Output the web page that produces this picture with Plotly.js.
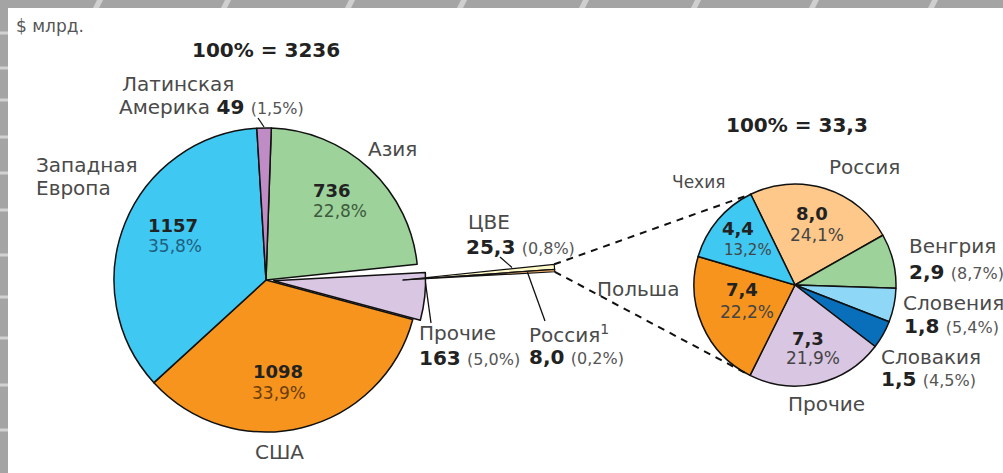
<!DOCTYPE html>
<html><head><meta charset="utf-8">
<script src="https://cdn.plot.ly/plotly-3.0.1.min.js"></script>
<style>html,body{margin:0;padding:0;background:#fff;overflow:hidden}#chart{width:1003px;height:473px}</style>
</head><body><div id="chart"></div>
<script>
// ---------------- data ----------------
const unitLabel = '$ млрд.';
const mainRegions = ['Азия', 'ЦВЕ', 'Прочие', 'США', 'Западная Европа', 'Латинская Америка'];
const mainValues = [736, 25.3, 163, 1098, 1157, 49];
const mainShares = [22.8, 0.8, 5.0, 33.9, 35.8, 1.5];
const mainTotal = 3236;
const ceeRussiaValue = 8.0;
const ceeRussiaShare = 0.2;
const ceeCountries = ['Россия', 'Венгрия', 'Словения', 'Словакия', 'Прочие', 'Польша', 'Чехия'];
const ceeValues = [8.0, 2.9, 1.8, 1.5, 7.3, 7.4, 4.4];
const ceeShares = [24.1, 8.7, 5.4, 4.5, 21.9, 22.2, 13.2];
const ceeTotal = 33.3;

// ---------------- styling / geometry ----------------
const W = 1003, H = 473;
const FONT = 'DejaVu Sans';
const mainColors = ['#9dd39b', 'rgba(0,0,0,0)', '#d9c6e2', '#f7941e', '#3fc8f2', '#c08cc6'];
const mainLineW = [1.5, 0, 1.5, 1.5, 1.5, 1.5];
const mainPull = [0, 0, 0.05, 0, 0, 0];
const ceeColors = ['#fdc88a', '#9dd39b', '#8fd7f7', '#0a6fba', '#d9c6e2', '#f7941e', '#3fc8f2'];
const MAIN = {cx: 266, cy: 280, r: 152, rot: 2};
const WEDGE = {cx: 403, cy: 280, r: 152};
const SEC = {cx: 795, cy: 285, r: 101, rot: -26};

const fmt1 = v => v.toFixed(1).replace('.', ',');
const fmtV = v => Number.isInteger(v) ? String(v) : fmt1(v);
const px = x => x / W, py = y => 1 - y / H;
function domain(c, maxPull) {
  const h = c.r * (1 + maxPull);
  return {x: [(c.cx - h) / W, (c.cx + h) / W], y: [1 - (c.cy + h) / H, 1 - (c.cy - h) / H]};
}
function angles(vals, rot) {
  const s = vals.reduce((a, b) => a + b, 0);
  let cum = 0;
  return vals.map(v => { const a0 = rot + 360 * cum / s; cum += v; return [a0, rot + 360 * cum / s]; });
}
function pt(c, r, a) { const t = a * Math.PI / 180; return [c.cx + r * Math.sin(t), c.cy - r * Math.cos(t)]; }

// wedge (exploded CEE) values: CEE split into Russia and the rest
const wedgeValues = [mainValues[0], mainValues[1] - ceeRussiaValue, ceeRussiaValue].concat(mainValues.slice(2));
const wedgeColors = wedgeValues.map((v, i) => i === 1 ? '#fffac8' : (i === 2 ? '#f5b06a' : 'rgba(0,0,0,0)'));
const wedgeLineW = wedgeValues.map((v, i) => (i === 1 || i === 2) ? 1.2 : 0);

const traces = [
  {type: 'pie', values: mainValues, labels: mainRegions, sort: false, direction: 'clockwise',
   rotation: MAIN.rot, pull: mainPull, textinfo: 'none', hoverinfo: 'skip', showlegend: false,
   domain: domain(MAIN, Math.max(...mainPull)),
   marker: {colors: mainColors, line: {color: '#111', width: mainLineW}}},
  {type: 'pie', values: wedgeValues, labels: ['a', 'b', 'c', 'd', 'e', 'f', 'g'], sort: false, direction: 'clockwise',
   rotation: MAIN.rot, textinfo: 'none', hoverinfo: 'skip', showlegend: false,
   domain: domain(WEDGE, 0),
   marker: {colors: wedgeColors, line: {color: '#111', width: wedgeLineW}}},
  {type: 'pie', values: ceeValues, labels: ceeCountries, sort: false, direction: 'clockwise',
   rotation: SEC.rot, textinfo: 'none', hoverinfo: 'skip', showlegend: false,
   domain: domain(SEC, 0),
   marker: {colors: ceeColors, line: {color: '#111', width: 1.5}}}
];

// ---------------- annotations ----------------
const anns = [];
function ann(text, x, y, o) {
  o = o || {};
  anns.push({xref: 'paper', yref: 'paper', x: px(x), y: py(y), xanchor: o.anchor || 'left', yanchor: 'middle',
    showarrow: false, text: text, font: {family: FONT, size: o.size || 20, color: o.color || '#4a4a4a'}});
}
const paren = s => ' <span style="font-size:16px;color:#555">(' + s + ')</span>';
const bnum = s => '<span style="color:#222"><b>' + s + '</b></span>';

ann(unitLabel, 14, 26, {size: 17, color: '#555'});
ann('<b>100% = ' + mainTotal + '</b>', 266, 50, {anchor: 'center', size: 20, color: '#222'});
// Latin America
ann('Латинская', 120, 84);
ann('Америка ' + bnum(fmtV(mainValues[5])) + paren(fmt1(mainShares[5])+'%'), 117, 107);
ann(mainRegions[0], 392, 149, {anchor: 'center'});
ann('Западная', 34, 165);
ann('Европа', 34, 188);
ann(bnum(fmtV(mainValues[0])), 311, 190, {size: 18});
ann(fmt1(mainShares[0]) + '%', 311, 211, {size: 17, color: '#3d5a3d'});
ann(bnum(fmtV(mainValues[4])), 146, 225, {size: 18});
ann(fmt1(mainShares[4]) + '%', 146, 246, {size: 17, color: '#1f5f80'});
ann(bnum(fmtV(mainValues[3])), 278, 371, {anchor: 'center', size: 18});
ann(fmt1(mainShares[3]) + '%', 279, 393, {anchor: 'center', size: 17, color: '#6a3d0a'});
ann(mainRegions[3], 279, 452, {anchor: 'center'});
ann(mainRegions[2], 417, 333);
ann(bnum(fmtV(mainValues[2])) + paren(fmt1(mainShares[2])+'%'), 417, 358);
ann(mainRegions[1], 466, 222);
ann(bnum(fmtV(mainValues[1])) + paren(fmt1(mainShares[1])+'%'), 464, 247);
ann('Россия<sup>1</sup>', 527, 334);
ann(bnum(fmt1(ceeRussiaValue)) + paren(fmt1(ceeRussiaShare)+'%'), 527, 357);
// secondary pie
ann('<b>100% = ' + fmt1(ceeTotal) + '</b>', 797, 125, {anchor: 'center', size: 20, color: '#222'});
ann(ceeCountries[6], 698, 182, {anchor: 'center', size: 17});
ann(ceeCountries[0], 864, 167, {anchor: 'center'});
ann(ceeCountries[1], 907, 246);
ann(bnum(fmt1(ceeValues[1])) + paren(fmt1(ceeShares[1])+'%'), 907, 272);
ann(ceeCountries[2], 901, 303);
ann(bnum(fmt1(ceeValues[2])) + paren(fmt1(ceeShares[2])+'%'), 902, 326);
ann(ceeCountries[3], 879, 357);
ann(bnum(fmt1(ceeValues[3])) + paren(fmt1(ceeShares[3])+'%'), 879, 379);
ann(ceeCountries[4], 826, 404, {anchor: 'center'});
ann(ceeCountries[5], 638, 289, {anchor: 'center'});
const inner = [[0, 812, 213, 817, 235, 17], [6, 738, 228, 748, 250, 15], [5, 742, 289, 747, 312, 17], [4, 808, 338, 813, 358, 17]];
inner.forEach(([i, x1, y1, x2, y2, s]) => {
  ann(bnum(fmt1(ceeValues[i])), x1, y1, {anchor: 'center', size: 18});
  ann(fmt1(ceeShares[i]) + '%', x2, y2, {anchor: 'center', size: s, color: '#444'});
});

// ---------------- shapes ----------------
const shapes = [];
const line = (p, q, o) => shapes.push(Object.assign({type: 'line', xref: 'paper', yref: 'paper',
  x0: px(p[0]), y0: py(p[1]), x1: px(q[0]), y1: py(q[1]), line: {color: '#111', width: 1.3}}, o || {}));

// decorative frame
shapes.push({type: 'rect', xref: 'paper', yref: 'paper', x0: 0, x1: 1, y0: py(8), y1: 1, line: {width: 0}, fillcolor: '#a4a4a4', layer: 'below'});
shapes.push({type: 'rect', xref: 'paper', yref: 'paper', x0: 0, x1: px(8), y0: 0, y1: 1, line: {width: 0}, fillcolor: '#a4a4a4', layer: 'below'});
[93, 221, 345, 457, 579, 691, 809, 928].forEach(x => shapes.push({type: 'path', xref: 'paper', yref: 'paper',
  path: 'M' + px(x + 4) + ',' + py(0) + ' L' + px(x + 10) + ',' + py(0) + ' L' + px(x + 6) + ',' + py(8) + ' L' + px(x) + ',' + py(8) + ' Z',
  line: {width: 0}, fillcolor: '#cfcfcf', layer: 'below'}));
[33, 68, 100, 137, 173, 210, 255, 297, 338, 385, 430].forEach(y => shapes.push({type: 'rect', xref: 'paper', yref: 'paper',
  x0: 0, x1: px(8), y0: py(y + 1.5), y1: py(y - 1.5), line: {width: 0}, fillcolor: '#d2d2d2', layer: 'below'}));

// leader lines (slice end computed from geometry)
const mA = angles(mainValues, MAIN.rot);
const wA = angles(wedgeValues, MAIN.rot);
const sA = angles(ceeValues, SEC.rot);
const laMid = (mA[5][0] + mA[5][1]) / 2;
line([258, 118], pt(MAIN, MAIN.r + 1, laMid));
const pullOff = mainPull[2] * MAIN.r, othMid = (mA[2][0] + mA[2][1]) / 2;
const othEdge = pt(MAIN, MAIN.r, mA[2][0] + 4);
const othP = [othEdge[0] + pullOff * Math.sin(othMid * Math.PI / 180), othEdge[1] - pullOff * Math.cos(othMid * Math.PI / 180)];
line(othP, [431, 323]);
const ceeMid = pt(WEDGE, WEDGE.r * 0.72, (wA[1][0] + wA[1][1]) / 2);
line([500, 257], [ceeMid[0], ceeMid[1] - 3]);
const rusMid = pt(WEDGE, WEDGE.r * 0.82, (wA[2][0] + wA[2][1]) / 2);
line(rusMid, [545, 321]);

// dashed connectors from the exploded wedge to the CEE pie
const wTop = pt(WEDGE, WEDGE.r, wA[1][0]);
const wBot = pt(WEDGE, WEDGE.r, wA[2][1]);
const sTop = pt(SEC, SEC.r, sA[0][0]);
const sBot = pt(SEC, SEC.r, sA[5][0]);
line(wTop, sTop, {line: {color: '#111', width: 2, dash: '7px,6px'}});
line(wBot, sBot, {line: {color: '#111', width: 2, dash: '7px,6px'}});

Plotly.newPlot('chart', traces, {
  width: W, height: H, margin: {l: 0, r: 0, t: 0, b: 0},
  paper_bgcolor: '#ffffff', plot_bgcolor: '#ffffff',
  showlegend: false, annotations: anns, shapes: shapes
}, {displayModeBar: false, staticPlot: true});
</script></body></html>
